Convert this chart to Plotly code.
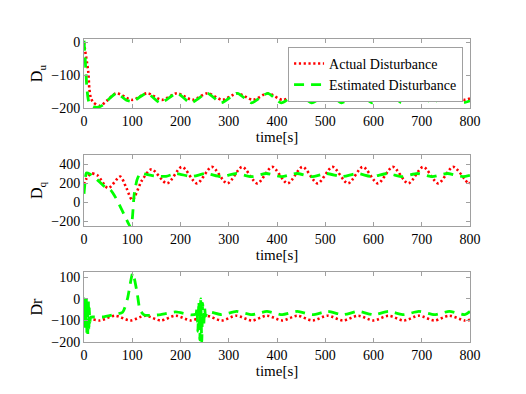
import plotly.graph_objects as go

# ---------------- data ----------------
t_du_act = [0, 2, 6, 9, 11, 14, 19, 33, 47, 67, 100, 131, 162, 193, 225, 256, 287, 318, 350, 381,
            412, 443, 475, 506, 537, 568, 600, 631, 662, 693, 725, 756, 787, 800]
v_du_act = [0, -22, -60, -92, -140, -168, -182, -193, -178, -155, -175, -155, -175, -155, -175, -155,
            -175, -155, -175, -155, -175, -155, -175, -155, -175, -155, -175, -155, -175, -155, -175,
            -155, -175, -171]

t_du_est = [0, 2, 4, 6, 9, 12, 20, 30, 40, 50, 67, 88, 100, 131, 158, 193, 221, 256, 284, 318, 347,
            381, 409, 443, 472, 506, 534, 568, 597, 631, 659, 693, 722, 756, 784, 800]
v_du_est = [5, -40, -90, -140, -175, -188, -196, -197, -190, -175, -155, -176, -180, -155, -184, -155,
            -184, -155, -184, -155, -184, -155, -184, -155, -184, -155, -184, -155, -184, -155, -184,
            -155, -184, -155, -184, -178]

t_dq_act = [0, 5, 15, 28, 50, 75, 88, 100, 120, 140, 172, 203, 234, 265, 297, 328, 359, 390, 422,
            453, 484, 515, 547, 578, 609, 640, 672, 703, 734, 765, 797, 800]
v_dq_act = [190, 250, 305, 285, 150, 272, 150, 25, 230, 350, 200, 375, 200, 375, 200, 375, 200, 375,
            200, 375, 200, 375, 200, 375, 200, 375, 200, 375, 200, 375, 200, 210]

t_dq_est = [0, 2, 5, 12, 25, 45, 55, 65, 80, 97, 100, 104, 110, 117, 125, 145, 170, 191, 222, 253,
            284, 316, 347, 378, 410, 441, 472, 503, 535, 566, 597, 628, 660, 691, 722, 753, 785, 800]
v_dq_est = [90, 200, 310, 300, 250, 155, 130, 55, -95, -265, -180, 80, 240, 310, 300, 280, 275, 305,
            272, 305, 272, 305, 272, 305, 272, 305, 272, 305, 272, 305, 272, 305, 272, 305, 272, 305,
            272, 285]

t_dr_act = [0, 10, 33, 64, 96, 127, 159, 190, 222, 253, 285, 316, 348, 379, 411, 442, 474, 505, 537,
            568, 600, 631, 663, 694, 726, 757, 789, 800]
v_dr_act = [-95, -92, -100, -78, -100, -78, -100, -78, -100, -78, -100, -78, -100, -78, -100, -78,
            -100, -78, -100, -78, -100, -78, -100, -78, -100, -78, -100, -97]

t_dr_est = [0, 1, 2, 3, 4, 5, 6, 7, 8, 9, 10, 11, 12, 14, 20, 38, 64, 80, 90, 101, 110, 116, 125,
            159, 190, 222, 232, 234, 236, 238, 240, 242, 244, 246, 248, 250, 252, 256, 285, 316, 348,
            379, 411, 442, 474, 505, 537, 568, 600, 631, 663, 694, 726, 757, 789, 800]
v_dr_est = [-90, 0, -140, 5, -110, 0, -165, -10, -170, 0, -150, -40, -110, -85, -84, -84, -72, -62,
            0, 120, 30, -50, -75, -73, -60, -74, -70, -40, -150, -10, -190, 0, -200, -20, -130, -40,
            -80, -60, -73, -58, -73, -58, -73, -58, -73, -58, -73, -58, -73, -58, -73, -58, -73, -58,
            -73, -58, -73, -66]

x_ticks = [0, 100, 200, 300, 400, 500, 600, 700, 800]
du_ticks = [-200, -100, 0]
dq_ticks = [-200, 0, 200, 400]
dr_ticks = [-200, -100, 0, 100]

names = ["Actual Disturbance", "Estimated Disturbance"]

# ---------------- figure ----------------
RED = "#FF0000"
GREEN = "#00FF00"
FONT = "Liberation Serif, Times New Roman, serif"

fig = go.Figure()

panels = [
    (t_du_act, v_du_act, t_du_est, v_du_est, "x", "y", True),
    (t_dq_act, v_dq_act, t_dq_est, v_dq_est, "x2", "y2", False),
    (t_dr_act, v_dr_act, t_dr_est, v_dr_est, "x3", "y3", False),
]
for ta, va, te, ve, xa, ya, show in panels:
    fig.add_trace(go.Scatter(x=ta, y=va, mode="lines", name=names[0], showlegend=show,
                             line=dict(color=RED, width=2.6, dash="2.2px,2.6px", shape="spline",
                                       smoothing=0.8),
                             xaxis=xa, yaxis=ya))
    fig.add_trace(go.Scatter(x=te, y=ve, mode="lines", name=names[1], showlegend=show,
                             line=dict(color=GREEN, width=2.8, dash="10px,7px", shape="spline",
                                       smoothing=0.6),
                             xaxis=xa, yaxis=ya))

axis_common = dict(showline=True, linecolor="#A0A0A0", linewidth=1, mirror="ticks",
                   ticks="inside", ticklen=4, tickcolor="#A0A0A0", showgrid=False,
                   zeroline=False, automargin=False,
                   tickfont=dict(family=FONT, size=14, color="#000"))

xcommon = dict(axis_common, range=[0, 800], tickvals=x_ticks,
               title=dict(text="time[s]", font=dict(family=FONT, size=15, color="#000"), standoff=3))

# the page body has an 8px margin, so the figure is 8px smaller than the window
fig.update_layout(
    width=518, height=386,
    margin=dict(l=76, r=56, t=31, b=52),
    paper_bgcolor="white", plot_bgcolor="white",
    font=dict(family=FONT, size=14, color="#000"),
    xaxis=dict(xcommon, domain=[0, 1], anchor="y"),
    xaxis2=dict(xcommon, domain=[0, 1], anchor="y2"),
    xaxis3=dict(xcommon, domain=[0, 1], anchor="y3"),
    yaxis=dict(axis_common, domain=[0.772, 1], anchor="x", range=[-200, 10], tickvals=du_ticks,
               title=dict(text="D<sub>u</sub>", font=dict(family=FONT, size=16, color="#000"),
                          standoff=4)),
    yaxis2=dict(axis_common, domain=[0.383, 0.617], anchor="x2", range=[-250, 500], tickvals=dq_ticks,
                title=dict(text="D<sub>q</sub>", font=dict(family=FONT, size=16, color="#000"),
                           standoff=4)),
    yaxis3=dict(axis_common, domain=[0, 0.231], anchor="x3", range=[-200, 125], tickvals=dr_ticks,
                title=dict(text="Dr", font=dict(family=FONT, size=16, color="#000"), standoff=4)),
    legend=dict(x=0.982, y=0.974, xanchor="right", yanchor="top",
                bgcolor="white", bordercolor="#A0A0A0", borderwidth=1,
                font=dict(family=FONT, size=14, color="#000"),
                tracegroupgap=0, itemwidth=30),
    showlegend=True,
)

fig.write_html("out.html")
